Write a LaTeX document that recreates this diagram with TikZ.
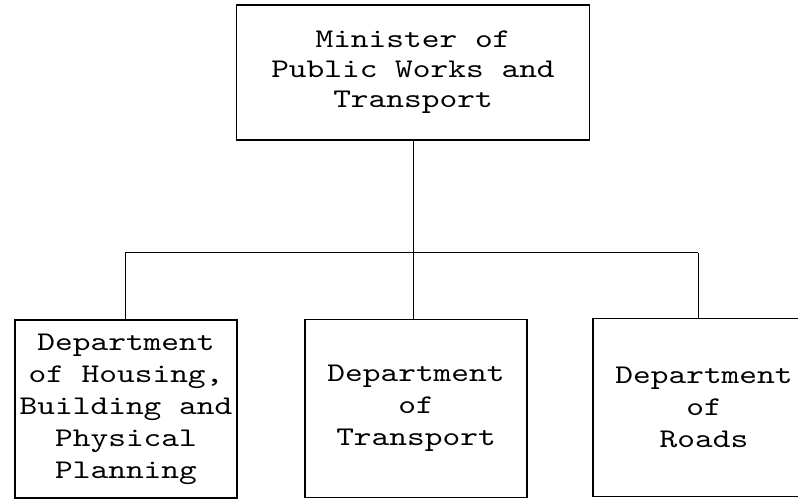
\documentclass[tikz,border=0pt]{standalone}
\usepackage{fontspec}
\setmonofont{lmmono10-regular}[Extension=.otf,FakeStretch=1.25]
\usetikzlibrary{positioning}
\tikzset{
  box/.style  ={draw=black,line width=1.6pt,align=center,inner sep=0pt},
  tbox/.style ={box,minimum width=353pt,minimum height=135pt,
                font=\ttfamily\fontsize{27}{30}\selectfont},
  dbox/.style ={box,minimum width=222pt,minimum height=178pt,
                font=\ttfamily\fontsize{27}{32}\selectfont},
  ln/.style   ={line width=1pt},
}
\begin{document}
\begin{tikzpicture}[x=1pt,y=1pt]
\clip (0,0) rectangle (798,502);
\node[tbox] (minister) at (413,429.5) {Minister of\\Public Works and\\Transport};
\node[dbox] (housing) at (126,93) {Department\\of Housing,\\Building and\\Physical\\Planning};
\node[dbox] (transport) at (416,93.5) {Department\\of\\Transport};
\node[dbox] (roads) at (704,94.5) {Department\\of\\Roads};

% branch bar
\coordinate (barL) at (125,249);
\coordinate (barR) at (698,249);
\coordinate (barM) at (minister.south |- barL);

\draw[ln] (minister.south) -- (barM);
\draw[ln] (barL) -- (barR);
\draw[ln] (barL) -- (barL |- housing.north);
\draw[ln] (barM) -- (barM |- transport.north);
\draw[ln] (barR) -- (barR |- roads.north);
\end{tikzpicture}
\end{document}
